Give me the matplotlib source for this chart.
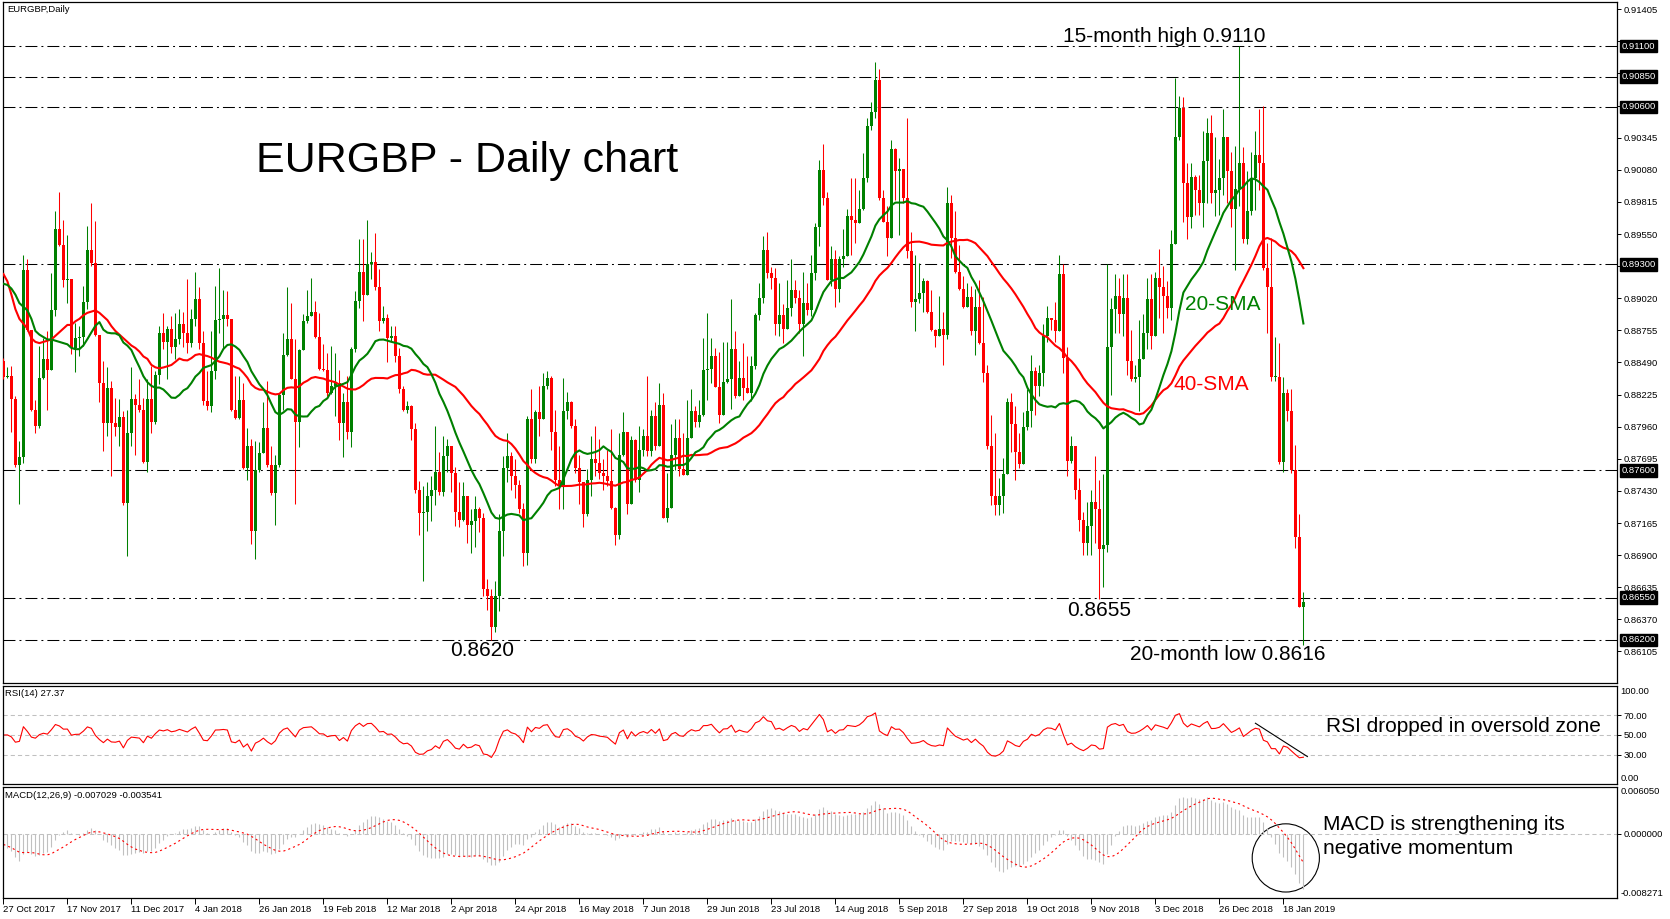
import numpy as np
import pandas as pd
import matplotlib
matplotlib.use("Agg")
import matplotlib.pyplot as plt
from matplotlib.patches import Ellipse
from matplotlib.transforms import blended_transform_factory

plt.rcParams['font.family'] = ['Liberation Sans', 'DejaVu Sans']
plt.rcParams['lines.scale_dashes'] = False

# ---- EURGBP daily bars (bar 0 = 27 Oct 2017) ----
first_open = 0.8850
closes = [
    0.8837, 0.8838, 0.8819, 0.8764, 0.8771, 0.8925, 0.8876, 0.8810, 0.8797, 0.8836,
    0.8852, 0.8843, 0.8892, 0.8959, 0.8946, 0.8917, 0.8918, 0.8861, 0.8869, 0.8870,
    0.8899, 0.8942, 0.8931, 0.8872, 0.8832, 0.8799, 0.8828, 0.8799, 0.8796, 0.8804,
    0.8733, 0.8791, 0.8819, 0.8814, 0.8810, 0.8767, 0.8819, 0.8800, 0.8839, 0.8873,
    0.8866, 0.8877, 0.8862, 0.8868, 0.8881, 0.8873, 0.8865, 0.8885, 0.8901, 0.8865,
    0.8817, 0.8813, 0.8842, 0.8884, 0.8885, 0.8888, 0.8885, 0.8810, 0.8803, 0.8818,
    0.8762, 0.8780, 0.8710, 0.8760, 0.8774, 0.8795, 0.8764, 0.8741, 0.8764, 0.8822,
    0.8855, 0.8868, 0.8835, 0.8800, 0.8859, 0.8883, 0.8887, 0.8891, 0.8870, 0.8844,
    0.8843, 0.8824, 0.8830, 0.8832, 0.8799, 0.8816, 0.8792, 0.8860, 0.8900, 0.8924,
    0.8905, 0.8930, 0.8932, 0.8911, 0.8883, 0.8886, 0.8869, 0.8871, 0.8854, 0.8827,
    0.8810, 0.8813, 0.8794, 0.8744, 0.8725, 0.8726, 0.8739, 0.8744, 0.8759, 0.8742,
    0.8772, 0.8780, 0.8758, 0.8726, 0.8719, 0.8739, 0.8715, 0.8718, 0.8728, 0.8721,
    0.8662, 0.8656, 0.8631, 0.8656, 0.8710, 0.8762, 0.8772, 0.8755, 0.8748, 0.8728,
    0.8692, 0.8802, 0.8769, 0.8808, 0.8802, 0.8830, 0.8836, 0.8792, 0.8752, 0.8747,
    0.8809, 0.8816, 0.8797, 0.8762, 0.8750, 0.8724, 0.8752, 0.8769, 0.8766, 0.8758,
    0.8755, 0.8751, 0.8729, 0.8707, 0.8773, 0.8792, 0.8732, 0.8785, 0.8752, 0.8777,
    0.8788, 0.8776, 0.8805, 0.8780, 0.8814, 0.8721, 0.8729, 0.8773, 0.8787, 0.8761,
    0.8756, 0.8787, 0.8809, 0.8800, 0.8806, 0.8843, 0.8844, 0.8854, 0.8829, 0.8806,
    0.8833, 0.8835, 0.8860, 0.8821, 0.8836, 0.8828, 0.8824, 0.8846, 0.8888, 0.8902,
    0.8942, 0.8923, 0.8919, 0.8881, 0.8888, 0.8877, 0.8894, 0.8909, 0.8902, 0.8881,
    0.8898, 0.8892, 0.8923, 0.8961, 0.9008, 0.8985, 0.8917, 0.8934, 0.8910, 0.8934,
    0.8937, 0.8970, 0.8967, 0.8964, 0.8976, 0.9001, 0.9044, 0.9056, 0.9082, 0.8985,
    0.8965, 0.8952, 0.9025, 0.9007, 0.9009, 0.8985, 0.8941, 0.8899, 0.8901, 0.8906,
    0.8916, 0.8891, 0.8876, 0.8871, 0.8877, 0.8872, 0.8981, 0.8952, 0.8924, 0.8910,
    0.8895, 0.8903, 0.8875, 0.8895, 0.8865, 0.8840, 0.8780, 0.8739, 0.8731, 0.8739,
    0.8757, 0.8816, 0.8798, 0.8775, 0.8765, 0.8796, 0.8809, 0.8842, 0.8830, 0.8840,
    0.8871, 0.8886, 0.8884, 0.8875, 0.8922, 0.8853, 0.8768, 0.8780, 0.8744, 0.8719,
    0.8700, 0.8714, 0.8734, 0.8728, 0.8695, 0.8698, 0.8862, 0.8893, 0.8904, 0.8889,
    0.8902, 0.8850, 0.8835, 0.8837, 0.8852, 0.8873, 0.8901, 0.8871, 0.8919, 0.8911,
    0.8904, 0.8894, 0.8947, 0.9035, 0.9059, 0.8997, 0.8969, 0.9002, 0.8991, 0.8981,
    0.9015, 0.9038, 0.8989, 0.8991, 0.9001, 0.9035, 0.9007, 0.8976, 0.8992, 0.9014,
    0.8951, 0.8974, 0.9001, 0.9020, 0.9014, 0.8927, 0.8911, 0.8837, 0.8837, 0.8767,
    0.8824, 0.8809, 0.8760, 0.8705, 0.8647, 0.8651,
]
highs = [
    0.8853, 0.8845, 0.8846, 0.8821, 0.8784, 0.8938, 0.8934, 0.8876, 0.8818, 0.8863,
    0.8869, 0.8875, 0.8923, 0.8974, 0.8990, 0.8967, 0.8954, 0.8916, 0.8882, 0.8879,
    0.8912, 0.8962, 0.8981, 0.8966, 0.8872, 0.8850, 0.8845, 0.8834, 0.8820, 0.8819,
    0.8809, 0.8810, 0.8845, 0.8823, 0.8835, 0.8820, 0.8835, 0.8846, 0.8842, 0.8879,
    0.8890, 0.8879, 0.8887, 0.8890, 0.8893, 0.8891, 0.8918, 0.8893, 0.8924, 0.8911,
    0.8875, 0.8842, 0.8875, 0.8912, 0.8927, 0.8909, 0.8908, 0.8885, 0.8838, 0.8838,
    0.8832, 0.8795, 0.8786, 0.8784, 0.8783, 0.8816, 0.8834, 0.8780, 0.8773, 0.8824,
    0.8873, 0.8911, 0.8898, 0.8868, 0.8860, 0.8889, 0.8909, 0.8919, 0.8900, 0.8890,
    0.8864, 0.8857, 0.8863, 0.8857, 0.8843, 0.8824, 0.8838, 0.8862, 0.8908, 0.8951,
    0.8951, 0.8967, 0.8940, 0.8956, 0.8926, 0.8896, 0.8889, 0.8879, 0.8879, 0.8861,
    0.8830, 0.8817, 0.8814, 0.8799, 0.8751, 0.8747, 0.8750, 0.8755, 0.8797, 0.8775,
    0.8788, 0.8786, 0.8773, 0.8763, 0.8750, 0.8750, 0.8739, 0.8728, 0.8739, 0.8730,
    0.8725, 0.8670, 0.8662, 0.8669, 0.8724, 0.8772, 0.8791, 0.8775, 0.8769, 0.8752,
    0.8733, 0.8805, 0.8827, 0.8810, 0.8830, 0.8840, 0.8842, 0.8838, 0.8810, 0.8780,
    0.8836, 0.8825, 0.8817, 0.8802, 0.8773, 0.8739, 0.8761, 0.8788, 0.8797, 0.8786,
    0.8769, 0.8777, 0.8794, 0.8730, 0.8791, 0.8808, 0.8792, 0.8788, 0.8786, 0.8797,
    0.8794, 0.8838, 0.8810, 0.8816, 0.8832, 0.8824, 0.8758, 0.8798, 0.8802, 0.8802,
    0.8791, 0.8818, 0.8827, 0.8813, 0.8818, 0.8869, 0.8890, 0.8869, 0.8861, 0.8858,
    0.8866, 0.8866, 0.8901, 0.8875, 0.8850, 0.8865, 0.8854, 0.8854, 0.8890, 0.8915,
    0.8953, 0.8957, 0.8928, 0.8927, 0.8915, 0.8897, 0.8917, 0.8934, 0.8917, 0.8909,
    0.8924, 0.8915, 0.8938, 0.8964, 0.9016, 0.9029, 0.8990, 0.8945, 0.8942, 0.8937,
    0.8959, 0.8976, 0.9001, 0.9001, 0.8991, 0.9022, 0.9051, 0.9064, 0.9097, 0.9091,
    0.8991, 0.8978, 0.9033, 0.9026, 0.9018, 0.9005, 0.9051, 0.8957, 0.8938, 0.8931,
    0.8919, 0.8917, 0.8909, 0.8877, 0.8904, 0.8891, 0.8994, 0.8987, 0.8974, 0.8946,
    0.8920, 0.8915, 0.8912, 0.8910, 0.8917, 0.8903, 0.8847, 0.8806, 0.8791, 0.8754,
    0.8770, 0.8820, 0.8824, 0.8813, 0.8791, 0.8808, 0.8827, 0.8855, 0.8845, 0.8847,
    0.8881, 0.8896, 0.8886, 0.8899, 0.8938, 0.8930, 0.8862, 0.8788, 0.8772, 0.8754,
    0.8726, 0.8734, 0.8744, 0.8772, 0.8752, 0.8757, 0.8930, 0.8902, 0.8922, 0.8919,
    0.8922, 0.8922, 0.8876, 0.8847, 0.8884, 0.8889, 0.8919, 0.8922, 0.8924, 0.8943,
    0.8929, 0.8916, 0.8958, 0.9084, 0.9069, 0.9068, 0.9014, 0.9014, 0.9004, 0.9004,
    0.9040, 0.9051, 0.9053, 0.9035, 0.9017, 0.9058, 0.9035, 0.9023, 0.9028, 0.9110,
    0.9027, 0.9007, 0.9023, 0.9040, 0.9058, 0.9061, 0.8948, 0.8952, 0.8870, 0.8865,
    0.8837, 0.8827, 0.8827, 0.8781, 0.8724, 0.8660,
]
lows = [
    0.8835, 0.8836, 0.8792, 0.8763, 0.8732, 0.8766, 0.8875, 0.8809, 0.8791, 0.8795,
    0.8835, 0.8810, 0.8843, 0.8887, 0.8945, 0.8911, 0.8898, 0.8856, 0.8841, 0.8854,
    0.8863, 0.8893, 0.8929, 0.8871, 0.8816, 0.8776, 0.8788, 0.8755, 0.8788, 0.8780,
    0.8731, 0.8689, 0.8780, 0.8773, 0.8808, 0.8766, 0.8759, 0.8791, 0.8798, 0.8831,
    0.8860, 0.8835, 0.8857, 0.8852, 0.8864, 0.8862, 0.8857, 0.8862, 0.8879, 0.8860,
    0.8814, 0.8810, 0.8808, 0.8835, 0.8873, 0.8860, 0.8879, 0.8809, 0.8802, 0.8802,
    0.8761, 0.8752, 0.8699, 0.8687, 0.8759, 0.8783, 0.8763, 0.8740, 0.8715, 0.8763,
    0.8810, 0.8854, 0.8835, 0.8732, 0.8779, 0.8862, 0.8882, 0.8887, 0.8869, 0.8843,
    0.8842, 0.8821, 0.8823, 0.8805, 0.8785, 0.8771, 0.8786, 0.8779, 0.8858, 0.8894,
    0.8883, 0.8918, 0.8918, 0.8909, 0.8875, 0.8882, 0.8849, 0.8867, 0.8849, 0.8824,
    0.8809, 0.8807, 0.8785, 0.8741, 0.8707, 0.8669, 0.8710, 0.8718, 0.8731, 0.8740,
    0.8739, 0.8759, 0.8742, 0.8714, 0.8713, 0.8718, 0.8700, 0.8692, 0.8697, 0.8709,
    0.8656, 0.8645, 0.8620, 0.8627, 0.8644, 0.8689, 0.8750, 0.8744, 0.8737, 0.8725,
    0.8681, 0.8682, 0.8766, 0.8766, 0.8788, 0.8802, 0.8827, 0.8777, 0.8747, 0.8728,
    0.8728, 0.8802, 0.8795, 0.8758, 0.8732, 0.8713, 0.8722, 0.8739, 0.8755, 0.8753,
    0.8744, 0.8747, 0.8728, 0.8698, 0.8703, 0.8772, 0.8724, 0.8732, 0.8750, 0.8742,
    0.8772, 0.8772, 0.8772, 0.8777, 0.8791, 0.8721, 0.8717, 0.8760, 0.8760, 0.8755,
    0.8756, 0.8767, 0.8796, 0.8796, 0.8796, 0.8805, 0.8818, 0.8832, 0.8829, 0.8799,
    0.8813, 0.8832, 0.8811, 0.8820, 0.8821, 0.8818, 0.8824, 0.8817, 0.8844, 0.8884,
    0.8898, 0.8919, 0.8910, 0.8872, 0.8871, 0.8865, 0.8879, 0.8887, 0.8898, 0.8873,
    0.8854, 0.8888, 0.8887, 0.8917, 0.8945, 0.8979, 0.8917, 0.8912, 0.8895, 0.8899,
    0.8928, 0.8937, 0.8938, 0.8948, 0.8964, 0.8975, 0.8998, 0.9041, 0.9051, 0.8983,
    0.8965, 0.8937, 0.8970, 0.8983, 0.8954, 0.8981, 0.8935, 0.8895, 0.8875, 0.8898,
    0.8891, 0.8890, 0.8875, 0.8862, 0.8871, 0.8847, 0.8868, 0.8935, 0.8923, 0.8909,
    0.8894, 0.8901, 0.8872, 0.8855, 0.8864, 0.8833, 0.8778, 0.8731, 0.8723, 0.8723,
    0.8725, 0.8782, 0.8775, 0.8752, 0.8762, 0.8765, 0.8793, 0.8796, 0.8806, 0.8821,
    0.8830, 0.8866, 0.8876, 0.8866, 0.8881, 0.8840, 0.8755, 0.8766, 0.8736, 0.8710,
    0.8690, 0.8690, 0.8690, 0.8700, 0.8654, 0.8664, 0.8693, 0.8822, 0.8873, 0.8873,
    0.8871, 0.8839, 0.8834, 0.8833, 0.8809, 0.8853, 0.8860, 0.8860, 0.8873, 0.8886,
    0.8873, 0.8886, 0.8884, 0.8955, 0.9033, 0.8965, 0.8951, 0.8960, 0.8971, 0.8971,
    0.8961, 0.8981, 0.8981, 0.8970, 0.8971, 0.8987, 0.8981, 0.8961, 0.8925, 0.8978,
    0.8948, 0.8947, 0.8971, 0.8975, 0.8991, 0.8925, 0.8873, 0.8834, 0.8834, 0.8765,
    0.8759, 0.8801, 0.8758, 0.8696, 0.8647, 0.8616,
]

# moving averages at the left edge (older bars are not shown)
sma20_lead = [0.8914, 0.8913, 0.8910, 0.8905, 0.8898, 0.8895, 0.8892, 0.8885,
              0.8875, 0.8872, 0.8870, 0.8868, 0.8868, 0.8867, 0.8866, 0.8865,
              0.8864, 0.8861, 0.8860]
sma40_lead = [0.8922, 0.8916, 0.8905, 0.8893, 0.8885, 0.8881, 0.8877, 0.8869,
              0.8866, 0.8865, 0.8866, 0.8867, 0.8868, 0.8871, 0.8874, 0.8877,
              0.8880, 0.8880, 0.8883, 0.8885, 0.8888, 0.8890, 0.8891, 0.8892,
              0.8890, 0.8887, 0.8884, 0.8879, 0.8875, 0.8872, 0.8869, 0.8866,
              0.8863, 0.8861, 0.8858, 0.8854, 0.8852, 0.8847, 0.8845]

# horizontal support / resistance levels drawn on the chart
levels = [0.9110, 0.9085, 0.9060, 0.8930, 0.8760, 0.8655, 0.8620]

price_ticks = [0.86105, 0.86370, 0.86635, 0.86900, 0.87165, 0.87430, 0.87695,
               0.87960, 0.88225, 0.88490, 0.88755, 0.89020, 0.89285, 0.89550,
               0.89815, 0.90080, 0.90345, 0.90610, 0.90875, 0.91140, 0.91405]
hidden_ticks = [0.89285, 0.90610, 0.90875, 0.91140]  # covered by level boxes

date_pos = [0, 16, 32, 48, 64, 80, 96, 112, 128, 144, 160, 176, 192, 208,
            224, 240, 256, 272, 288, 304, 320]
date_labels = ['27 Oct 2017', '17 Nov 2017', '11 Dec 2017', '4 Jan 2018',
               '26 Jan 2018', '19 Feb 2018', '12 Mar 2018', '2 Apr 2018',
               '24 Apr 2018', '16 May 2018', '7 Jun 2018', '29 Jun 2018',
               '23 Jul 2018', '14 Aug 2018', '5 Sep 2018', '27 Sep 2018',
               '19 Oct 2018', '9 Nov 2018', '3 Dec 2018', '26 Dec 2018',
               '18 Jan 2019']

rsi_levels = [30, 50, 70]
macd_top, macd_bottom = 0.006050, -0.008271

GREEN = '#008000'
RED = '#ff0000'
GRAY = '#c0c0c0'
SMALL = 6.8
BIG = 15

W, H = 1670, 919


def box(left, top, right, bottom):
    return [left / W, 1 - bottom / H, (right - left) / W, (bottom - top) / H]


def fig_xy(x, y):
    return x / W, 1 - y / H


fig = plt.figure(figsize=(W / 100, H / 100), dpi=100)
ax = fig.add_axes(box(3, 2, 1617, 683))
ax_rsi = fig.add_axes(box(3, 686, 1617, 784), sharex=ax)
ax_macd = fig.add_axes(box(3, 787, 1617, 898), sharex=ax)

for a in (ax, ax_rsi, ax_macd):
    for sp in a.spines.values():
        sp.set_linewidth(0.9)
        sp.set_color('black')
    a.yaxis.tick_right()
    a.tick_params(axis='y', length=3, width=0.7, pad=1.5, labelsize=SMALL,
                  direction='out')
    a.tick_params(axis='x', bottom=False, labelbottom=False)

# ---- candles ----
c = np.array(closes)
o = np.r_[first_open, c[:-1]]
h = np.maximum(np.array(highs), np.maximum(o, c))
l = np.minimum(np.array(lows), np.minimum(o, c))
x = np.arange(len(c))
col = np.where(c >= o, GREEN, RED)

ax.vlines(x, l, h, colors=col, lw=0.75, zorder=3)
body = np.maximum(np.abs(c - o), 0.00008)
ax.bar(x, body, bottom=np.minimum(o, c), width=0.7, color=col,
       linewidth=0, zorder=3)

s = pd.Series(c)
sma20 = s.rolling(20).mean()
sma40 = s.rolling(40).mean()
sma20.iloc[:len(sma20_lead)] = sma20_lead
sma40.iloc[:len(sma40_lead)] = sma40_lead
ax.plot(x, sma40, color=RED, lw=1.5, zorder=4)
ax.plot(x, sma20, color=GREEN, lw=1.5, zorder=4)

dashdot = (0, (8.6, 2.9, 1.4, 2.9))
for lv in levels:
    ax.axhline(lv, color='black', lw=0.75, linestyle=dashdot, zorder=2)

ax.set_xlim(-0.1, 403.4)
ax.set_ylim(0.85845, 0.91465)
ax.set_yticks(price_ticks)
ax.set_yticklabels(['' if any(abs(v - t) < 1e-9 for t in hidden_ticks)
                    else f'{v:.5f}' for v in price_ticks])

tr = blended_transform_factory(ax.transAxes, ax.transData)
for lv in levels:
    ax.text(1.0028, lv, f'{lv:.5f}', transform=tr, ha='left', va='center',
            color='white', fontsize=SMALL, zorder=10,
            bbox=dict(boxstyle='square,pad=0.18', fc='black', ec='black'))

# ---- RSI(14), Wilder smoothing seeded with a neutral start ----
d = s.diff().fillna(0)
seed = d.abs().iloc[1:15].mean() / 2
gain = pd.concat([pd.Series([seed]), d.clip(lower=0)], ignore_index=True)
loss = pd.concat([pd.Series([seed]), (-d).clip(lower=0)], ignore_index=True)
avg_gain = gain.ewm(alpha=1 / 14, adjust=False).mean().iloc[1:].to_numpy()
avg_loss = loss.ewm(alpha=1 / 14, adjust=False).mean().iloc[1:].to_numpy()
rsi = 100 - 100 / (1 + avg_gain / avg_loss)

for lv in rsi_levels:
    ax_rsi.axhline(lv, color=GRAY, lw=0.75, linestyle=(0, (3, 2.2)))
ax_rsi.plot(x, rsi, color=RED, lw=0.8)
ax_rsi.plot([313, 326], [62, 28], color='black', lw=0.8)
ax_rsi.set_ylim(0, 100)
ax_rsi.set_yticks(rsi_levels)
ax_rsi.set_yticklabels([f'{v:.2f}' for v in rsi_levels])
rtr = blended_transform_factory(ax_rsi.transAxes, ax_rsi.transData)
ax_rsi.text(1.002, 99, '100.00', transform=rtr, ha='left', va='top',
            fontsize=SMALL)
ax_rsi.text(1.002, 1, '0.00', transform=rtr, ha='left', va='bottom',
            fontsize=SMALL)

# ---- MACD(12,26,9); EMAs start from the averages seen at the left edge ----
ema12 = pd.Series([sma20_lead[0]] + closes).ewm(span=12, adjust=False).mean()
ema26 = pd.Series([sma40_lead[0]] + closes).ewm(span=26, adjust=False).mean()
macd = (ema12 - ema26).iloc[1:].reset_index(drop=True)
signal = macd.rolling(9, min_periods=1).mean()

ax_macd.axhline(0, color=GRAY, lw=0.75, linestyle=(0, (3, 2.2)))
ax_macd.vlines(x, 0, macd, colors=GRAY, lw=0.8)
ax_macd.plot(x, signal, color=RED, lw=0.8, linestyle=(0, (1.5, 2.2)))
ax_macd.set_ylim(macd_bottom, macd_top)
ax_macd.set_yticks([0])
ax_macd.set_yticklabels(['0.000000'])
mtr = blended_transform_factory(ax_macd.transAxes, ax_macd.transData)
ax_macd.text(1.002, macd_top, f'{macd_top:.6f}', transform=mtr, ha='left',
             va='top', fontsize=SMALL)
ax_macd.text(1.002, macd_bottom, f'{macd_bottom:.6f}', transform=mtr,
             ha='left', va='bottom', fontsize=SMALL)
ax_macd.add_patch(Ellipse((320.6, -0.0031), 16.8, 0.0088, fill=False,
                          ec='black', lw=0.8, clip_on=False))

ax_macd.tick_params(axis='x', bottom=True, labelbottom=True, length=4,
                    width=0.7, pad=1, labelsize=SMALL, direction='out')
ax_macd.set_xticks(date_pos)
ax_macd.set_xticklabels(date_labels, ha='left')

# ---- header texts and annotations ----
fig.text(*fig_xy(7, 9), 'EURGBP,Daily', fontsize=SMALL, ha='left', va='center')
fig.text(*fig_xy(5, 694), 'RSI(14) 27.37', fontsize=SMALL, ha='left',
         va='center')
fig.text(*fig_xy(5, 796), 'MACD(12,26,9) -0.007029 -0.003541', fontsize=SMALL,
         ha='left', va='center')

fig.text(*fig_xy(256, 161), 'EURGBP - Daily chart', fontsize=31, ha='left',
         va='center')
fig.text(*fig_xy(1164, 36), '15-month high 0.9110', fontsize=BIG, ha='center',
         va='center')
fig.text(*fig_xy(482, 651), '0.8620', fontsize=BIG, ha='center', va='center')
fig.text(*fig_xy(1099, 611), '0.8655', fontsize=BIG, ha='center', va='center')
fig.text(*fig_xy(1228, 654), '20-month low 0.8616', fontsize=BIG, ha='center',
         va='center')
fig.text(*fig_xy(1185, 305), '20-SMA', fontsize=BIG, color=GREEN, ha='left',
         va='center')
fig.text(*fig_xy(1173, 385), '40-SMA', fontsize=BIG, color=RED, ha='left',
         va='center')
fig.text(*fig_xy(1326, 727), 'RSI dropped in oversold zone', fontsize=BIG,
         ha='left', va='center')
fig.text(*fig_xy(1323, 824), 'MACD is strengthening its', fontsize=BIG,
         ha='left', va='center')
fig.text(*fig_xy(1323, 849), 'negative momentum', fontsize=BIG, ha='left',
         va='center')

fig.savefig('out.png', dpi=100)
